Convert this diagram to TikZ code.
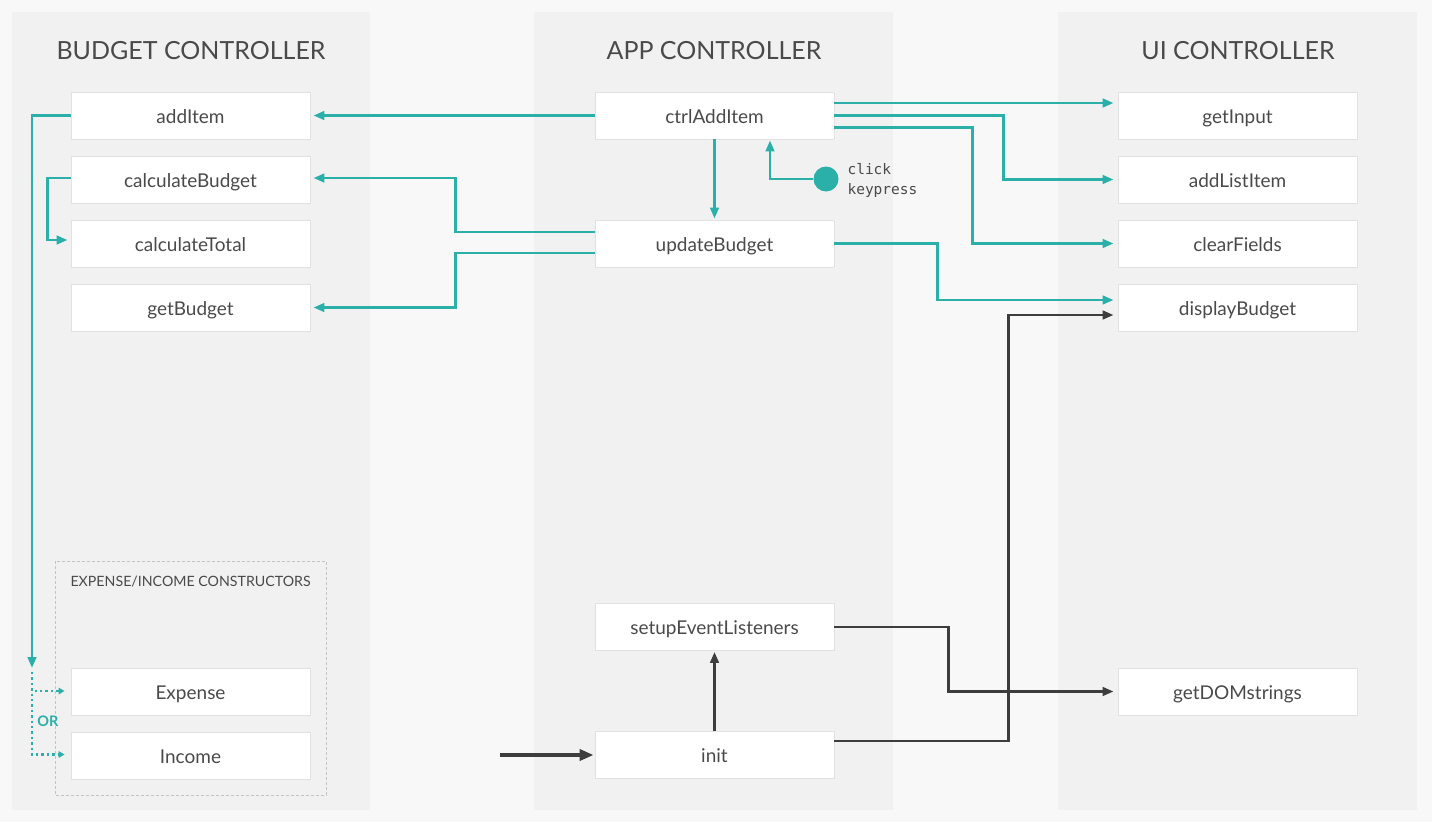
\documentclass[tikz,border=0pt]{standalone}
\usepackage{fontspec}
\setmainfont{Lato}
\newfontfamily\monofont{DejaVu Sans Mono}
\usetikzlibrary{arrows.meta,calc}
\definecolor{bgc}{HTML}{F8F8F8}
\definecolor{panelc}{HTML}{F1F1F1}
\definecolor{boxline}{HTML}{E2E2E2}
\definecolor{txtc}{HTML}{4A4A4A}
\definecolor{tealc}{HTML}{2BAFA9}
\definecolor{darkc}{HTML}{3D3D3D}
\definecolor{dashc}{HTML}{C4C4C4}
\tikzset{
  fn/.style={draw=boxline, line width=0.8pt, fill=white, minimum width=239, minimum height=47, inner sep=0pt, text height=17pt, text depth=2pt, text=txtc, font=\fontsize{19}{22}\selectfont},
  title/.style={text=txtc, font=\fontsize{25}{29}\selectfont},
  tl/.style={draw=tealc, line width=2.8pt, -{Triangle[length=11pt,width=8.5pt]}},
  dl/.style={draw=darkc, line width=2.8pt, -{Triangle[length=11pt,width=8.5pt]}},
  dotl/.style={draw=tealc, line width=2.6pt, dash pattern=on 2.4pt off 3pt, -{Triangle[length=6pt,width=6.5pt]}},
}
\begin{document}
\begin{tikzpicture}[x=1pt,y=-1pt]
\useasboundingbox (0,0) rectangle (1432,822);
\fill[bgc] (0,0) rectangle (1432,822);
% panels
\fill[panelc] (12,12) rectangle (370,810);
\fill[panelc] (534,12) rectangle (893,810);
\fill[panelc] (1058,12) rectangle (1417,810);
\node[title] (tb) at (191,51) {BUDGET CONTROLLER};
\node[title] (ta) at (714,51) {APP CONTROLLER};
\node[title] (tu) at (1238,51) {UI CONTROLLER};
% constructors box
\draw[dashc, line width=0.8pt, dash pattern=on 3pt off 2pt] (55,561) rectangle (326,795);
\node[anchor=west, text=txtc, font=\fontsize{14.2}{16}\selectfont] (tc) at (67,582) {EXPENSE/INCOME CONSTRUCTORS};
% budget controller
\node[fn] (addItem) at (190.5,115.5) {addItem};
\node[fn] (calcBudget) at (190.5,179.5) {calculateBudget};
\node[fn] (calcTotal) at (190.5,243.5) {calculateTotal};
\node[fn] (getBudget) at (190.5,307.5) {getBudget};
\node[fn] (expense) at (190.5,691.5) {Expense};
\node[fn] (income) at (190.5,755.5) {Income};
% app controller
\node[fn] (ctrl) at (714.5,115.5) {ctrlAddItem};
\node[fn] (upd) at (714.5,243.5) {updateBudget};
\node[fn] (setup) at (714.5,627) {setupEventListeners};
\node[fn] (init) at (714.5,755) {init};
% ui controller
\node[fn] (getInput) at (1237.5,115.5) {getInput};
\node[fn] (addList) at (1237.5,179.5) {addListItem};
\node[fn] (clear) at (1237.5,243.5) {clearFields};
\node[fn] (display) at (1237.5,307.5) {displayBudget};
\node[fn] (dom) at (1237.5,691.5) {getDOMstrings};
% click dot
\node[circle, fill=tealc, minimum size=25, inner sep=0pt] (dot) at (826,179) {};
\node[anchor=west, text=txtc, font=\monofont\fontsize{14.5}{16}\selectfont] (clk) at (844,169) {click};
\node[anchor=west, text=txtc, font=\monofont\fontsize{14.5}{16}\selectfont] (kp) at (844,190) {keypress};
\node[text=tealc, font=\bfseries\fontsize{14.5}{16}\selectfont] (orl) at (48,721) {OR};
% teal connectors
\draw[tl, shorten >=3pt] (ctrl.west) -- (addItem.east);
\draw[tl, shorten >=1pt] (ctrl.south) -- (upd.north);
\draw[tl, shorten >=1pt] (dot.west) -| ($(ctrl.south)+(55.5,0)$);
\draw[tl, shorten >=4pt] ($(ctrl.east)+(0,-12.5)$) coordinate (c1) -- (c1 -| getInput.west);
\draw[tl, shorten >=4pt] (ctrl.east) -- ++(169,0) |- (addList.west);
\draw[tl, shorten >=4pt] ($(ctrl.east)+(0,12)$) -- ++(138,0) |- (clear.west);
\draw[tl, shorten >=4pt] (upd.east) -- ++(103,0) |- ($(display.west)+(0,-7.5)$);
\draw[tl, shorten >=3pt] ($(upd.west)+(0,-11.5)$) -- ++(-139,0) |- ($(calcBudget.east)+(0,-1.5)$);
\draw[tl, shorten >=3pt] ($(upd.west)+(0,9.5)$) -- ++(-139,0) |- (getBudget.east);
\draw[tl, shorten >=3pt] ($(calcBudget.west)+(0,-1.5)$) -- ++(-23,0) |- ($(calcTotal.west)+(0,-3.5)$);
\coordinate (split) at (32,668);
\draw[tl] (addItem.west) -| (split);
\draw[dotl, shorten >=6pt] ($(split)+(0,4)$) |- ($(expense.west)+(0,-0.5)$);
\draw[dotl, shorten >=6pt] ($(split)+(0,4)$) |- ($(income.west)+(0,-1)$);
% dark connectors
\draw[dl, shorten >=4pt] ($(init.east)+(0,-14)$) -- ++(174,0) |- ($(display.west)+(0,7.5)$);
\draw[dl, shorten >=4pt] (setup.east) -- ++(114,0) |- (dom.west);
\draw[dl, shorten >=1pt] (init.north) -- (setup.south);
\coordinate (start) at (500,755);
\draw[draw=darkc, line width=4pt, -{Triangle[length=14pt,width=11pt]}, shorten >=1pt] (start) -- (init.west);
\end{tikzpicture}
\end{document}
